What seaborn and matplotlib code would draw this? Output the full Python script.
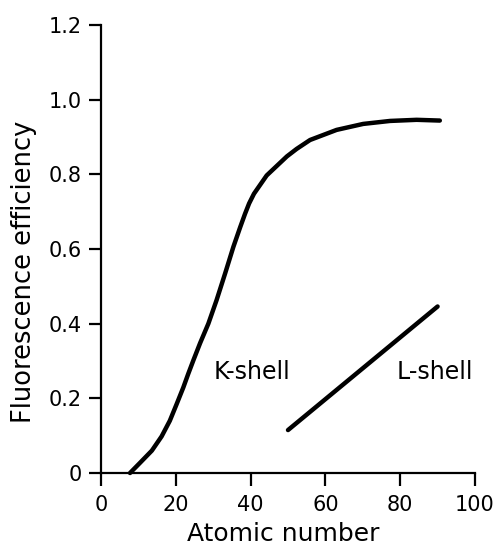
import matplotlib
matplotlib.use("Agg")
import matplotlib.pyplot as plt
import pandas as pd
import seaborn as sns

# K-shell fluorescence yield vs atomic number
k_z = [7.75, 10.4, 13.6, 16.2, 18.4, 20.2, 22.0, 23.3, 24.7, 26.5, 28.7, 30.9, 33.2,
       35.4, 37.2, 38.5, 39.6, 40.9, 44.3, 49.7, 52.3, 55.9, 63.0, 70.1, 77.3, 84.4, 90.6]
k_yield = [0.0, 0.027, 0.060, 0.098, 0.140, 0.184, 0.229, 0.265, 0.302, 0.348, 0.40,
           0.463, 0.535, 0.606, 0.658, 0.694, 0.722, 0.748, 0.797, 0.848, 0.868, 0.892,
           0.919, 0.935, 0.943, 0.946, 0.944]

# L-shell fluorescence yield vs atomic number
l_z = [50, 90]
l_yield = [0.115, 0.446]

x_ticks = [0, 20, 40, 60, 80, 100]
y_ticks = [0, 0.2, 0.4, 0.6, 0.8, 1.0, 1.2]
y_tick_labels = ["0", "0.2", "0.4", "0.6", "0.8", "1.0", "1.2"]

sns.set_theme(style="ticks")
plt.rcParams["font.family"] = ["DejaVu Sans"]

k_df = pd.DataFrame({"z": k_z, "w": k_yield})
l_df = pd.DataFrame({"z": l_z, "w": l_yield})

fig = plt.figure(figsize=(4.94, 5.54), dpi=100)
ax = fig.add_axes([0.2045, 0.1462, 0.757, 0.8087])

sns.lineplot(data=k_df, x="z", y="w", ax=ax, color="black", linewidth=3.2,
             solid_capstyle="round", solid_joinstyle="round", clip_on=False)
sns.lineplot(data=l_df, x="z", y="w", ax=ax, color="black", linewidth=3.2,
             solid_capstyle="round", clip_on=False)

ax.set_xlim(0, 100)
ax.set_ylim(0, 1.2)
ax.set_xticks(x_ticks)
ax.set_yticks(y_ticks)
ax.set_yticklabels(y_tick_labels)

for side in ("top", "right"):
    ax.spines[side].set_visible(False)
for side in ("left", "bottom"):
    ax.spines[side].set_linewidth(1.6)
    ax.spines[side].set_color("black")

ax.tick_params(axis="both", direction="out", length=9, width=1.6, color="black",
               labelsize=15, labelcolor="black")
ax.tick_params(axis="y", pad=5)
ax.tick_params(axis="x", pad=7)

ax.set_xlabel("Atomic number", fontsize=18, color="black")
ax.set_ylabel("Fluorescence efficiency", fontsize=18.5, color="black")
ax.xaxis.set_label_coords(0.487, -0.11)
ax.yaxis.set_label_coords(-0.171, 0.449)

ax.text(40.4, 0.271, "K-shell", fontsize=17, ha="center", va="center", color="black")
ax.text(89.3, 0.271, "L-shell", fontsize=17, ha="center", va="center", color="black")

fig.savefig("out.png", dpi=100, facecolor="white")
